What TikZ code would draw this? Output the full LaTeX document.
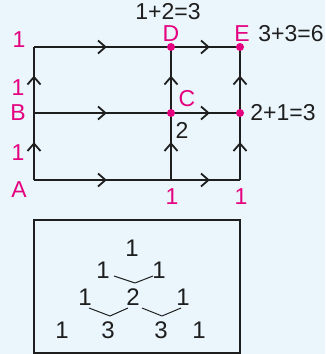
\documentclass[tikz,border=0pt]{standalone}
\usepackage{fontspec}
\setmainfont{Liberation Sans}
\usetikzlibrary{decorations.markings}
\definecolor{bgblue}{HTML}{EAF6FC}
\definecolor{pathpink}{HTML}{E4007F}
\definecolor{ink}{HTML}{1E1E1E}
\begin{document}
\begin{tikzpicture}[x=1pt,y=-1pt,
  road/.style={line width=2.8pt, draw=ink,
    postaction={decorate},
    decoration={markings, mark=at position 0.5 with {
      \draw[line width=1.8pt, draw=ink, line join=miter]
        (-4.5pt,-6.5pt) -- (3pt,0pt) -- (-4.5pt,6.5pt);}}},
  dot/.style={circle, fill=pathpink, inner sep=0pt, minimum size=8pt},
  plab/.style={text=pathpink, font=\fontsize{23}{23}\selectfont, inner sep=0pt},
  blab/.style={text=ink, font=\fontsize{23}{23}\selectfont, inner sep=0pt},
  tnum/.style={text=ink, font=\fontsize{24}{24}\selectfont, inner sep=0pt},
  vee/.style={draw=ink, line width=1pt, line join=round}]
  % background and page size
  \fill[bgblue] (0,0) rectangle (325,354);
  \useasboundingbox (0,0) rectangle (325,354);

  % grid corners and crossings
  \coordinate (A)  at (34,180);
  \coordinate (BM) at (171,180);
  \coordinate (BR) at (240,180);
  \coordinate (B)  at (34,113);
  \coordinate (C)  at (171,113);
  \coordinate (R)  at (240,113);
  \coordinate (TL) at (34,47);
  \coordinate (D)  at (171,47);
  \coordinate (E)  at (240,47);

  % streets, each with a direction chevron
  \draw[road] (A) -- (BM);
  \draw[road] (BM) -- (BR);
  \draw[road] (B) -- (C);
  \draw[road] (C) -- (R);
  \draw[road] (TL) -- (D);
  \draw[road] (D) -- (E);
  \draw[road] (A) -- (B);
  \draw[road] (B) -- (TL);
  \draw[road] (BM) -- (C);
  \draw[road] (C) -- (D);
  \draw[road] (BR) -- (R);
  \draw[road] (R) -- (E);

  % marked crossings
  \node[dot] (dC) at (C) {};
  \node[dot] (dR) at (R) {};
  \node[dot] (dD) at (D) {};
  \node[dot] (dE) at (E) {};

  % counts and letters
  \node[plab] (nTL) at (19,40)  {1};
  \node[plab] (nL2) at (18,88)  {1};
  \node[plab] (nB)  at (18,113) {B};
  \node[plab] (nL1) at (18,153) {1};
  \node[plab] (nA)  at (19,190) {A};
  \node[plab] (nBM) at (172,197) {1};
  \node[plab] (nBR) at (241,197) {1};
  \node[plab] (nD)  at (171,34) {D};
  \node[plab] (nE)  at (242,34) {E};
  \node[plab] (nC)  at (187,99) {C};
  \node[blab] (sD)  at (168,12) {1+2=3};
  \node[blab] (sE)  at (291,34) {3+3=6};
  \node[blab] (sR)  at (283,113) {2+1=3};
  \node[blab] (sC)  at (182,130) {2};

  % Pascal triangle panel
  \draw[draw=ink, line width=2.4pt] (34,220) rectangle (240,353);
  \node[tnum] (t0)  at (132,248) {1};
  \node[tnum] (t1a) at (103,270) {1};
  \node[tnum] (t1b) at (159,270) {1};
  \node[tnum] (t2a) at (85,297)  {1};
  \node[tnum] (t2b) at (133,297) {2};
  \node[tnum] (t2c) at (183,297) {1};
  \node[tnum] (t3a) at (62,330)  {1};
  \node[tnum] (t3b) at (108,330) {3};
  \node[tnum] (t3c) at (161,330) {3};
  \node[tnum] (t3d) at (199,330) {1};
  \draw[vee] (114,276) -- (135,283) -- (153,276);
  \draw[vee] (89,308) -- (110,316) -- (128,308);
  \draw[vee] (142,308) -- (162,316) -- (181,308);
\end{tikzpicture}
\end{document}
